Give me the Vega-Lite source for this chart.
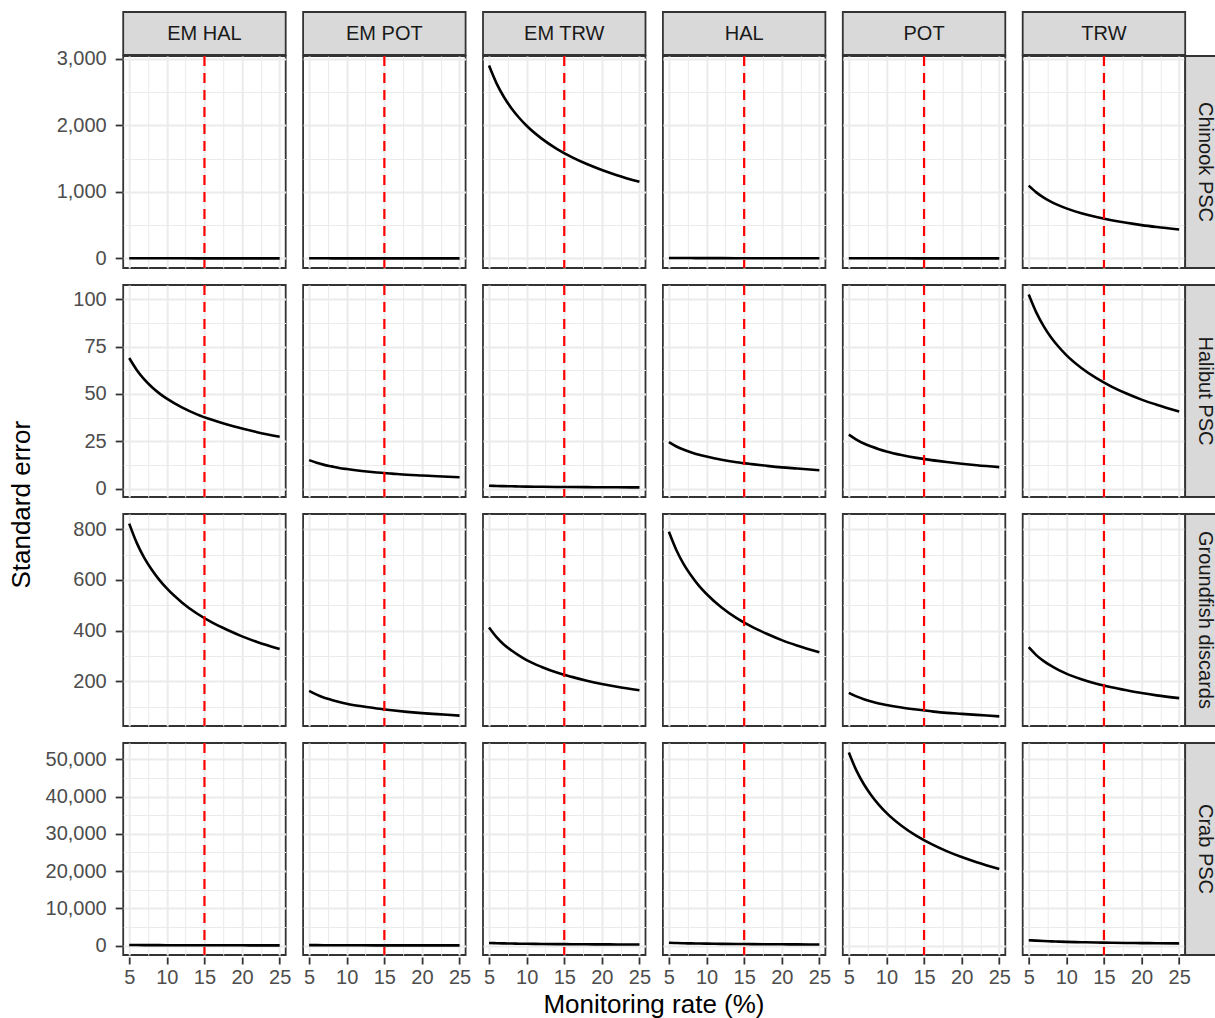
{
  "$schema": "https://vega.github.io/schema/vega-lite/v6.json",
  "background": "white",
  "padding": {"left": 7, "top": 11, "right": 0, "bottom": 0},
  "datasets": {
    "se": [
      {"i":"Chinook PSC","x":5,"EM HAL":4,"EM POT":3,"EM TRW":2900,"HAL":8,"POT":4,"TRW":1095},
      {"i":"Chinook PSC","x":6,"EM HAL":3.6,"EM POT":2.7,"EM TRW":2633,"HAL":7.3,"POT":3.6,"TRW":994},
      {"i":"Chinook PSC","x":7,"EM HAL":3.3,"EM POT":2.5,"EM TRW":2424,"HAL":6.7,"POT":3.3,"TRW":915},
      {"i":"Chinook PSC","x":8,"EM HAL":3.1,"EM POT":2.3,"EM TRW":2256,"HAL":6.2,"POT":3.1,"TRW":852},
      {"i":"Chinook PSC","x":9,"EM HAL":2.9,"EM POT":2.2,"EM TRW":2116,"HAL":5.8,"POT":2.9,"TRW":799},
      {"i":"Chinook PSC","x":10,"EM HAL":2.8,"EM POT":2.1,"EM TRW":1995,"HAL":5.5,"POT":2.8,"TRW":753},
      {"i":"Chinook PSC","x":12,"EM HAL":2.5,"EM POT":1.9,"EM TRW":1802,"HAL":5.0,"POT":2.5,"TRW":680},
      {"i":"Chinook PSC","x":14,"EM HAL":2.3,"EM POT":1.7,"EM TRW":1649,"HAL":4.5,"POT":2.3,"TRW":623},
      {"i":"Chinook PSC","x":16,"EM HAL":2.1,"EM POT":1.6,"EM TRW":1525,"HAL":4.2,"POT":2.1,"TRW":576},
      {"i":"Chinook PSC","x":18,"EM HAL":2.0,"EM POT":1.5,"EM TRW":1420,"HAL":3.9,"POT":2.0,"TRW":536},
      {"i":"Chinook PSC","x":20,"EM HAL":1.8,"EM POT":1.4,"EM TRW":1331,"HAL":3.7,"POT":1.8,"TRW":502},
      {"i":"Chinook PSC","x":22,"EM HAL":1.7,"EM POT":1.3,"EM TRW":1253,"HAL":3.5,"POT":1.7,"TRW":473},
      {"i":"Chinook PSC","x":25,"EM HAL":1.6,"EM POT":1.2,"EM TRW":1152,"HAL":3.2,"POT":1.6,"TRW":435},
      {"i":"Halibut PSC","x":5,"EM HAL":69,"EM POT":15,"EM TRW":1.5,"HAL":24.5,"POT":28.5,"TRW":102.5},
      {"i":"Halibut PSC","x":6,"EM HAL":62.7,"EM POT":13.6,"EM TRW":1.36,"HAL":22.2,"POT":25.9,"TRW":93.1},
      {"i":"Halibut PSC","x":7,"EM HAL":57.7,"EM POT":12.5,"EM TRW":1.25,"HAL":20.5,"POT":23.8,"TRW":85.7},
      {"i":"Halibut PSC","x":8,"EM HAL":53.7,"EM POT":11.7,"EM TRW":1.17,"HAL":19.1,"POT":22.2,"TRW":79.7},
      {"i":"Halibut PSC","x":9,"EM HAL":50.3,"EM POT":10.9,"EM TRW":1.09,"HAL":17.9,"POT":20.8,"TRW":74.8},
      {"i":"Halibut PSC","x":10,"EM HAL":47.5,"EM POT":10.3,"EM TRW":1.03,"HAL":16.9,"POT":19.6,"TRW":70.5},
      {"i":"Halibut PSC","x":12,"EM HAL":42.9,"EM POT":9.3,"EM TRW":0.93,"HAL":15.2,"POT":17.7,"TRW":63.7},
      {"i":"Halibut PSC","x":14,"EM HAL":39.2,"EM POT":8.5,"EM TRW":0.85,"HAL":13.9,"POT":16.2,"TRW":58.3},
      {"i":"Halibut PSC","x":16,"EM HAL":36.3,"EM POT":7.9,"EM TRW":0.79,"HAL":12.9,"POT":15.0,"TRW":53.9},
      {"i":"Halibut PSC","x":18,"EM HAL":33.8,"EM POT":7.3,"EM TRW":0.73,"HAL":12.0,"POT":14.0,"TRW":50.2},
      {"i":"Halibut PSC","x":20,"EM HAL":31.7,"EM POT":6.9,"EM TRW":0.69,"HAL":11.2,"POT":13.1,"TRW":47.0},
      {"i":"Halibut PSC","x":22,"EM HAL":29.8,"EM POT":6.5,"EM TRW":0.65,"HAL":10.6,"POT":12.3,"TRW":44.3},
      {"i":"Halibut PSC","x":25,"EM HAL":27.4,"EM POT":6.0,"EM TRW":0.6,"HAL":9.7,"POT":11.3,"TRW":40.7},
      {"i":"Groundfish discards","x":5,"EM HAL":822,"EM POT":162,"EM TRW":412,"HAL":790,"POT":154,"TRW":334},
      {"i":"Groundfish discards","x":6,"EM HAL":746,"EM POT":147,"EM TRW":374,"HAL":717,"POT":140,"TRW":303},
      {"i":"Groundfish discards","x":7,"EM HAL":687,"EM POT":135,"EM TRW":344,"HAL":660,"POT":129,"TRW":279},
      {"i":"Groundfish discards","x":8,"EM HAL":640,"EM POT":126,"EM TRW":321,"HAL":615,"POT":120,"TRW":260},
      {"i":"Groundfish discards","x":9,"EM HAL":600,"EM POT":118,"EM TRW":301,"HAL":576,"POT":112,"TRW":244},
      {"i":"Groundfish discards","x":10,"EM HAL":566,"EM POT":111,"EM TRW":283,"HAL":544,"POT":106,"TRW":230},
      {"i":"Groundfish discards","x":12,"EM HAL":511,"EM POT":101,"EM TRW":256,"HAL":491,"POT":96,"TRW":208},
      {"i":"Groundfish discards","x":14,"EM HAL":467,"EM POT":92,"EM TRW":234,"HAL":449,"POT":88,"TRW":190},
      {"i":"Groundfish discards","x":16,"EM HAL":432,"EM POT":85,"EM TRW":217,"HAL":415,"POT":81,"TRW":176},
      {"i":"Groundfish discards","x":18,"EM HAL":403,"EM POT":79,"EM TRW":202,"HAL":387,"POT":75,"TRW":164},
      {"i":"Groundfish discards","x":20,"EM HAL":377,"EM POT":74,"EM TRW":189,"HAL":362,"POT":71,"TRW":153},
      {"i":"Groundfish discards","x":22,"EM HAL":355,"EM POT":70,"EM TRW":178,"HAL":341,"POT":67,"TRW":144},
      {"i":"Groundfish discards","x":25,"EM HAL":327,"EM POT":64,"EM TRW":164,"HAL":314,"POT":61,"TRW":133},
      {"i":"Crab PSC","x":5,"EM HAL":150,"EM POT":120,"EM TRW":700,"HAL":750,"POT":51800,"TRW":1450},
      {"i":"Crab PSC","x":6,"EM HAL":136,"EM POT":109,"EM TRW":636,"HAL":681,"POT":47034,"TRW":1317},
      {"i":"Crab PSC","x":7,"EM HAL":125,"EM POT":100,"EM TRW":585,"HAL":627,"POT":43305,"TRW":1212},
      {"i":"Crab PSC","x":8,"EM HAL":117,"EM POT":93,"EM TRW":545,"HAL":584,"POT":40300,"TRW":1128},
      {"i":"Crab PSC","x":9,"EM HAL":109,"EM POT":88,"EM TRW":511,"HAL":547,"POT":37788,"TRW":1058},
      {"i":"Crab PSC","x":10,"EM HAL":103,"EM POT":83,"EM TRW":482,"HAL":516,"POT":35638,"TRW":998},
      {"i":"Crab PSC","x":12,"EM HAL":93,"EM POT":75,"EM TRW":435,"HAL":466,"POT":32183,"TRW":901},
      {"i":"Crab PSC","x":14,"EM HAL":85,"EM POT":68,"EM TRW":398,"HAL":426,"POT":29453,"TRW":824},
      {"i":"Crab PSC","x":16,"EM HAL":79,"EM POT":63,"EM TRW":368,"HAL":394,"POT":27231,"TRW":762},
      {"i":"Crab PSC","x":18,"EM HAL":73,"EM POT":59,"EM TRW":343,"HAL":367,"POT":25366,"TRW":710},
      {"i":"Crab PSC","x":20,"EM HAL":69,"EM POT":55,"EM TRW":321,"HAL":344,"POT":23766,"TRW":665},
      {"i":"Crab PSC","x":22,"EM HAL":65,"EM POT":52,"EM TRW":302,"HAL":324,"POT":22378,"TRW":626},
      {"i":"Crab PSC","x":25,"EM HAL":60,"EM POT":48,"EM TRW":278,"HAL":298,"POT":20585,"TRW":576}
    ]
  },
  "hconcat": [
    {
      "data": {"values": [{"t": "Standard error"}]},
      "width": 30,
      "height": 985.5,
      "view": {"stroke": null},
      "mark": {"type": "text", "angle": 270, "fontSize": 26, "color": "#000000", "baseline": "middle", "align": "center"},
      "encoding": {"text": {"field": "t", "type": "nominal"}}
    },
    {
      "vconcat": [
        {
          "vconcat": [
            {
              "data": {"values": [{"g": "EM HAL"}, {"g": "EM POT"}, {"g": "EM TRW"}, {"g": "HAL"}, {"g": "POT"}, {"g": "TRW"}]},
              "facet": {"column": {"field": "g", "type": "nominal", "header": {"labels": false, "title": null}}},
              "spacing": {"column": 14.9, "row": 0},
              "spec": {
                "width": 162.5,
                "height": 43,
                "view": {"fill": "#D9D9D9", "stroke": "#333333", "strokeWidth": 1.8},
                "mark": {"type": "text", "fontSize": 20, "color": "#1A1A1A", "baseline": "middle", "align": "center"},
                "encoding": {"text": {"field": "g", "type": "nominal"}}
              }
            },
            {
              "concat": [
                {
                  "data": {"name": "se"},
                  "transform": [{"filter": "datum.i === 'Chinook PSC'"}, {"fold": ["EM HAL", "EM POT", "EM TRW", "HAL", "POT", "TRW"], "as": ["g", "y"]}],
                  "facet": {"column": {"field": "g", "type": "nominal", "header": {"labels": false, "title": null}}},
                  "spacing": {"column": 14.9, "row": 0},
                  "spec": {
                    "width": 162.5,
                    "height": 212,
                    "layer": [
                      {
                        "mark": {"type": "line", "color": "#000000", "strokeWidth": 2.6, "interpolate": "monotone"},
                        "encoding": {
                          "x": {"field": "x", "type": "quantitative", "scale": {"domain": [4.2, 25.8], "nice": false, "zero": false},
                                "axis": {"title": null, "values": [5, 7.5, 10, 12.5, 15, 17.5, 20, 22.5, 25], "labels": false, "ticks": false,
                                         "gridWidth": {"condition": {"test": "datum.value % 5 !== 0", "value": 1}, "value": 2}}},
                          "y": {"field": "y", "type": "quantitative", "scale": {"zero": false, "nice": false, "padding": 9.6},
                                "axis": {"title": null, "values": [0, 500, 1000, 1500, 2000, 2500, 3000], "format": ",d", "labelOverlap": false, "labelPadding": 9,
                                         "labelExpr": "datum.value % 1000 === 0 ? datum.label : ''",
                                         "tickOpacity": {"condition": {"test": "datum.value % 1000 !== 0", "value": 0}, "value": 1},
                                         "gridWidth": {"condition": {"test": "datum.value % 1000 !== 0", "value": 1}, "value": 2}}}
                        }
                      },
                      {
                        "transform": [{"aggregate": [{"op": "count", "as": "n"}], "groupby": ["g"]}],
                        "mark": {"type": "rule", "color": "#FF0000", "strokeWidth": 2.2, "strokeDash": [10, 7]},
                        "encoding": {"x": {"datum": 15, "type": "quantitative", "scale": {"domain": [4.2, 25.8], "nice": false, "zero": false},
                                           "axis": {"title": null, "values": [5, 7.5, 10, 12.5, 15, 17.5, 20, 22.5, 25], "labels": false, "ticks": false,
                                                    "gridWidth": {"condition": {"test": "datum.value % 5 !== 0", "value": 1}, "value": 2}}}}
                      }
                    ]
                  }
                },
                {
                  "data": {"values": [{"i": "Chinook PSC"}]},
                  "width": 39,
                  "height": 212,
                  "view": {"fill": "#D9D9D9", "stroke": "#333333", "strokeWidth": 1.8},
                  "mark": {"type": "text", "angle": 90, "fontSize": 20, "color": "#1A1A1A", "baseline": "middle", "align": "center"},
                  "encoding": {"text": {"field": "i", "type": "nominal"}}
                },
                {
                  "data": {"name": "se"},
                  "transform": [{"filter": "datum.i === 'Halibut PSC'"}, {"fold": ["EM HAL", "EM POT", "EM TRW", "HAL", "POT", "TRW"], "as": ["g", "y"]}],
                  "facet": {"column": {"field": "g", "type": "nominal", "header": {"labels": false, "title": null}}},
                  "spacing": {"column": 14.9, "row": 0},
                  "spec": {
                    "width": 162.5,
                    "height": 212,
                    "layer": [
                      {
                        "mark": {"type": "line", "color": "#000000", "strokeWidth": 2.6, "interpolate": "monotone"},
                        "encoding": {
                          "x": {"field": "x", "type": "quantitative", "scale": {"domain": [4.2, 25.8], "nice": false, "zero": false},
                                "axis": {"title": null, "values": [5, 7.5, 10, 12.5, 15, 17.5, 20, 22.5, 25], "labels": false, "ticks": false,
                                         "gridWidth": {"condition": {"test": "datum.value % 5 !== 0", "value": 1}, "value": 2}}},
                          "y": {"field": "y", "type": "quantitative", "scale": {"zero": false, "nice": false, "padding": 9.6},
                                "axis": {"title": null, "values": [0, 12.5, 25, 37.5, 50, 62.5, 75, 87.5, 100], "format": ",d", "labelOverlap": false, "labelPadding": 9,
                                         "labelExpr": "datum.value % 25 === 0 ? datum.label : ''",
                                         "tickOpacity": {"condition": {"test": "datum.value % 25 !== 0", "value": 0}, "value": 1},
                                         "gridWidth": {"condition": {"test": "datum.value % 25 !== 0", "value": 1}, "value": 2}}}
                        }
                      },
                      {
                        "transform": [{"aggregate": [{"op": "count", "as": "n"}], "groupby": ["g"]}],
                        "mark": {"type": "rule", "color": "#FF0000", "strokeWidth": 2.2, "strokeDash": [10, 7]},
                        "encoding": {"x": {"datum": 15, "type": "quantitative", "scale": {"domain": [4.2, 25.8], "nice": false, "zero": false},
                                           "axis": {"title": null, "values": [5, 7.5, 10, 12.5, 15, 17.5, 20, 22.5, 25], "labels": false, "ticks": false,
                                                    "gridWidth": {"condition": {"test": "datum.value % 5 !== 0", "value": 1}, "value": 2}}}}
                      }
                    ]
                  }
                },
                {
                  "data": {"values": [{"i": "Halibut PSC"}]},
                  "width": 39,
                  "height": 212,
                  "view": {"fill": "#D9D9D9", "stroke": "#333333", "strokeWidth": 1.8},
                  "mark": {"type": "text", "angle": 90, "fontSize": 20, "color": "#1A1A1A", "baseline": "middle", "align": "center"},
                  "encoding": {"text": {"field": "i", "type": "nominal"}}
                },
                {
                  "data": {"name": "se"},
                  "transform": [{"filter": "datum.i === 'Groundfish discards'"}, {"fold": ["EM HAL", "EM POT", "EM TRW", "HAL", "POT", "TRW"], "as": ["g", "y"]}],
                  "facet": {"column": {"field": "g", "type": "nominal", "header": {"labels": false, "title": null}}},
                  "spacing": {"column": 14.9, "row": 0},
                  "spec": {
                    "width": 162.5,
                    "height": 212,
                    "layer": [
                      {
                        "mark": {"type": "line", "color": "#000000", "strokeWidth": 2.6, "interpolate": "monotone"},
                        "encoding": {
                          "x": {"field": "x", "type": "quantitative", "scale": {"domain": [4.2, 25.8], "nice": false, "zero": false},
                                "axis": {"title": null, "values": [5, 7.5, 10, 12.5, 15, 17.5, 20, 22.5, 25], "labels": false, "ticks": false,
                                         "gridWidth": {"condition": {"test": "datum.value % 5 !== 0", "value": 1}, "value": 2}}},
                          "y": {"field": "y", "type": "quantitative", "scale": {"zero": false, "nice": false, "padding": 9.6},
                                "axis": {"title": null, "values": [100, 200, 300, 400, 500, 600, 700, 800], "format": ",d", "labelOverlap": false, "labelPadding": 9,
                                         "labelExpr": "datum.value % 200 === 0 ? datum.label : ''",
                                         "tickOpacity": {"condition": {"test": "datum.value % 200 !== 0", "value": 0}, "value": 1},
                                         "gridWidth": {"condition": {"test": "datum.value % 200 !== 0", "value": 1}, "value": 2}}}
                        }
                      },
                      {
                        "transform": [{"aggregate": [{"op": "count", "as": "n"}], "groupby": ["g"]}],
                        "mark": {"type": "rule", "color": "#FF0000", "strokeWidth": 2.2, "strokeDash": [10, 7]},
                        "encoding": {"x": {"datum": 15, "type": "quantitative", "scale": {"domain": [4.2, 25.8], "nice": false, "zero": false},
                                           "axis": {"title": null, "values": [5, 7.5, 10, 12.5, 15, 17.5, 20, 22.5, 25], "labels": false, "ticks": false,
                                                    "gridWidth": {"condition": {"test": "datum.value % 5 !== 0", "value": 1}, "value": 2}}}}
                      }
                    ]
                  }
                },
                {
                  "data": {"values": [{"i": "Groundfish discards"}]},
                  "width": 39,
                  "height": 212,
                  "view": {"fill": "#D9D9D9", "stroke": "#333333", "strokeWidth": 1.8},
                  "mark": {"type": "text", "angle": 90, "fontSize": 20, "color": "#1A1A1A", "baseline": "middle", "align": "center"},
                  "encoding": {"text": {"field": "i", "type": "nominal"}}
                },
                {
                  "data": {"name": "se"},
                  "transform": [{"filter": "datum.i === 'Crab PSC'"}, {"fold": ["EM HAL", "EM POT", "EM TRW", "HAL", "POT", "TRW"], "as": ["g", "y"]}],
                  "facet": {"column": {"field": "g", "type": "nominal", "header": {"labels": false, "title": null}}},
                  "spacing": {"column": 14.9, "row": 0},
                  "spec": {
                    "width": 162.5,
                    "height": 212,
                    "layer": [
                      {
                        "mark": {"type": "line", "color": "#000000", "strokeWidth": 2.6, "interpolate": "monotone"},
                        "encoding": {
                          "x": {"field": "x", "type": "quantitative", "scale": {"domain": [4.2, 25.8], "nice": false, "zero": false},
                                "axis": {"title": null, "values": [5, 7.5, 10, 12.5, 15, 17.5, 20, 22.5, 25], "labelOverlap": false, "labelFlush": false, "labelPadding": 3,
                                         "labelExpr": "datum.value % 5 === 0 ? datum.label : ''",
                                         "tickOpacity": {"condition": {"test": "datum.value % 5 !== 0", "value": 0}, "value": 1},
                                         "gridWidth": {"condition": {"test": "datum.value % 5 !== 0", "value": 1}, "value": 2}}},
                          "y": {"field": "y", "type": "quantitative", "scale": {"zero": false, "nice": false, "padding": 9.6},
                                "axis": {"title": null, "values": [0, 5000, 10000, 15000, 20000, 25000, 30000, 35000, 40000, 45000, 50000], "format": ",d", "labelOverlap": false, "labelPadding": 9,
                                         "labelExpr": "datum.value % 10000 === 0 ? datum.label : ''",
                                         "tickOpacity": {"condition": {"test": "datum.value % 10000 !== 0", "value": 0}, "value": 1},
                                         "gridWidth": {"condition": {"test": "datum.value % 10000 !== 0", "value": 1}, "value": 2}}}
                        }
                      },
                      {
                        "transform": [{"aggregate": [{"op": "count", "as": "n"}], "groupby": ["g"]}],
                        "mark": {"type": "rule", "color": "#FF0000", "strokeWidth": 2.2, "strokeDash": [10, 7]},
                        "encoding": {"x": {"datum": 15, "type": "quantitative", "scale": {"domain": [4.2, 25.8], "nice": false, "zero": false},
                                           "axis": {"title": null, "values": [5, 7.5, 10, 12.5, 15, 17.5, 20, 22.5, 25], "labelOverlap": false, "labelFlush": false, "labelPadding": 3,
                                                    "labelExpr": "datum.value % 5 === 0 ? datum.label : ''",
                                                    "tickOpacity": {"condition": {"test": "datum.value % 5 !== 0", "value": 0}, "value": 1},
                                                    "gridWidth": {"condition": {"test": "datum.value % 5 !== 0", "value": 1}, "value": 2}}}}
                      }
                    ]
                  }
                },
                {
                  "data": {"values": [{"i": "Crab PSC"}]},
                  "width": 39,
                  "height": 212,
                  "view": {"fill": "#D9D9D9", "stroke": "#333333", "strokeWidth": 1.8},
                  "mark": {"type": "text", "angle": 90, "fontSize": 20, "color": "#1A1A1A", "baseline": "middle", "align": "center"},
                  "encoding": {"text": {"field": "i", "type": "nominal"}}
                }
              ],
              "columns": 2,
              "align": {"row": "each", "column": "none"},
              "spacing": {"row": 13, "column": -7}
            }
          ],
          "spacing": -8
        },
        {
          "data": {"values": [{"t": "Monitoring rate (%)"}]},
          "width": 1061.5,
          "height": 30,
          "view": {"stroke": null},
          "mark": {"type": "text", "fontSize": 26, "color": "#000000", "baseline": "middle", "align": "center"},
          "encoding": {"text": {"field": "t", "type": "nominal"}}
        }
      ],
      "spacing": 3
    }
  ],
  "spacing": 7.2,
  "config": {
    "font": "Liberation Sans",
    "facet": {"spacing": 14.9},
    "view": {"stroke": "#333333", "strokeWidth": 1.8},
    "axis": {
      "domain": false,
      "grid": true,
      "gridColor": "#EBEBEB",
      "tickColor": "#333333",
      "tickWidth": 1.8,
      "tickSize": 7,
      "labelColor": "#4D4D4D",
      "labelFont": "Liberation Sans",
      "labelFontSize": 20,
      "labelPadding": 7,
      "titleFont": "Liberation Sans",
      "titleFontWeight": "normal"
    }
  }
}
